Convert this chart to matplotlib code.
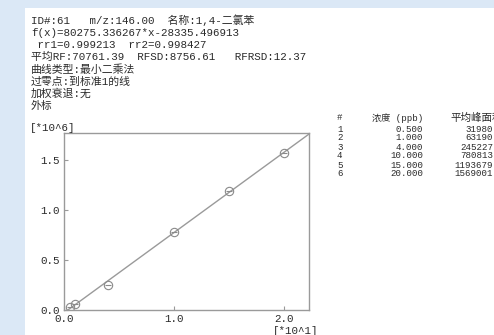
import matplotlib
matplotlib.use('Agg')
import matplotlib.pyplot as plt
from matplotlib.patches import Rectangle

# calibration data (concentration in ppb, mean peak area)
conc_ppb = [0.5, 1.0, 4.0, 10.0, 15.0, 20.0]
peak_area = [31980, 63190, 245227, 780813, 1193679, 1569001]
slope = 80275.336267
intercept = -28335.496913

header_lines = [
    "ID#:61   m/z:146.00  名称:1,4-二氯苯",
    "f(x)=80275.336267*x-28335.496913",
    " rr1=0.999213  rr2=0.998427",
    "平均RF:70761.39  RFSD:8756.61   RFRSD:12.37",
    "曲线类型:最小二乘法",
    "过零点:到标准1的线",
    "加权衰退:无",
    "外标",
]
x_ticks = [0.0, 1.0, 2.0]
y_ticks = [0.0, 0.5, 1.0, 1.5]
x_max, y_max = 2.227, 1.77

W, H = 494, 335
plt.rcParams['font.family'] = ['Liberation Mono', 'Noto Sans CJK SC']
txt_col = '#2a2a2a'
gray = '#9a9a9a'

fig = plt.figure(figsize=(W / 100, H / 100), dpi=100)
fig.patch.set_facecolor('#dbe8f6')
fig.patches.append(Rectangle((25 / W, 0), 1, 1 - 8 / H, transform=fig.transFigure,
                             facecolor='white', edgecolor='none', zorder=-5))


def px(x, y):
    return x / W, 1 - y / H


# header block
for i, line in enumerate(header_lines):
    fig.text(*px(31, 20.5 + i * 12.2), line, fontsize=7.8, color=txt_col, va='center')

fig.text(*px(30, 128), "[*10^6]", fontsize=7.8, color=txt_col, va='center')
fig.text(*px(273, 331), "[*10^1]", fontsize=7.8, color=txt_col, va='center')

# plot
ax = fig.add_axes([64 / W, 1 - 310 / H, 245 / W, 177 / H])
ax.set_facecolor('none')
xs = [c / 10 for c in conc_ppb]
ys = [a / 1e6 for a in peak_area]
fx = [0, x_max]
fy = [(slope * v * 10 + intercept) / 1e6 for v in fx]
ax.plot(fx, fy, color=gray, lw=1)
ax.plot(xs, ys, 'o', ms=6, mfc='none', mec='#8a8a8a', mew=0.8)
ax.plot(xs, ys, '_', ms=4.5, color='#8a8a8a', mew=0.8)
ax.set_xlim(0, x_max)
ax.set_ylim(0, y_max)
ax.set_xticks(x_ticks)
ax.set_yticks(y_ticks)
ax.set_xticklabels(["%.1f" % v for v in x_ticks])
ax.set_yticklabels(["%.1f" % v for v in y_ticks])
ax.tick_params(direction='in', length=3, width=0.8, color=gray, labelsize=7.8,
               labelcolor=txt_col)
ax.tick_params(axis='x', pad=3)
ax.tick_params(axis='y', pad=3)
for s in ax.spines.values():
    s.set_color(gray)
    s.set_linewidth(1)

# table on the right
tfs = 6.6
row0 = 118
fig.text(*px(337, row0), "#", fontsize=tfs, color=txt_col, va='center')
fig.text(*px(423, row0), "浓度 (ppb)", fontsize=tfs, color=txt_col, va='center', ha='right')
fig.text(*px(450, row0), "平均峰面积", fontsize=7.6, color=txt_col, va='center')
for i, (c, a) in enumerate(zip(conc_ppb, peak_area)):
    y = row0 + 11 + i * 9
    fig.text(*px(337, y), str(i + 1), fontsize=tfs, color=txt_col, va='center')
    fig.text(*px(423, y), "%.3f" % c, fontsize=tfs, color=txt_col, va='center', ha='right')
    fig.text(*px(493, y), str(a), fontsize=tfs, color=txt_col, va='center', ha='right')

fig.savefig('out.png', dpi=100, facecolor=fig.get_facecolor())
